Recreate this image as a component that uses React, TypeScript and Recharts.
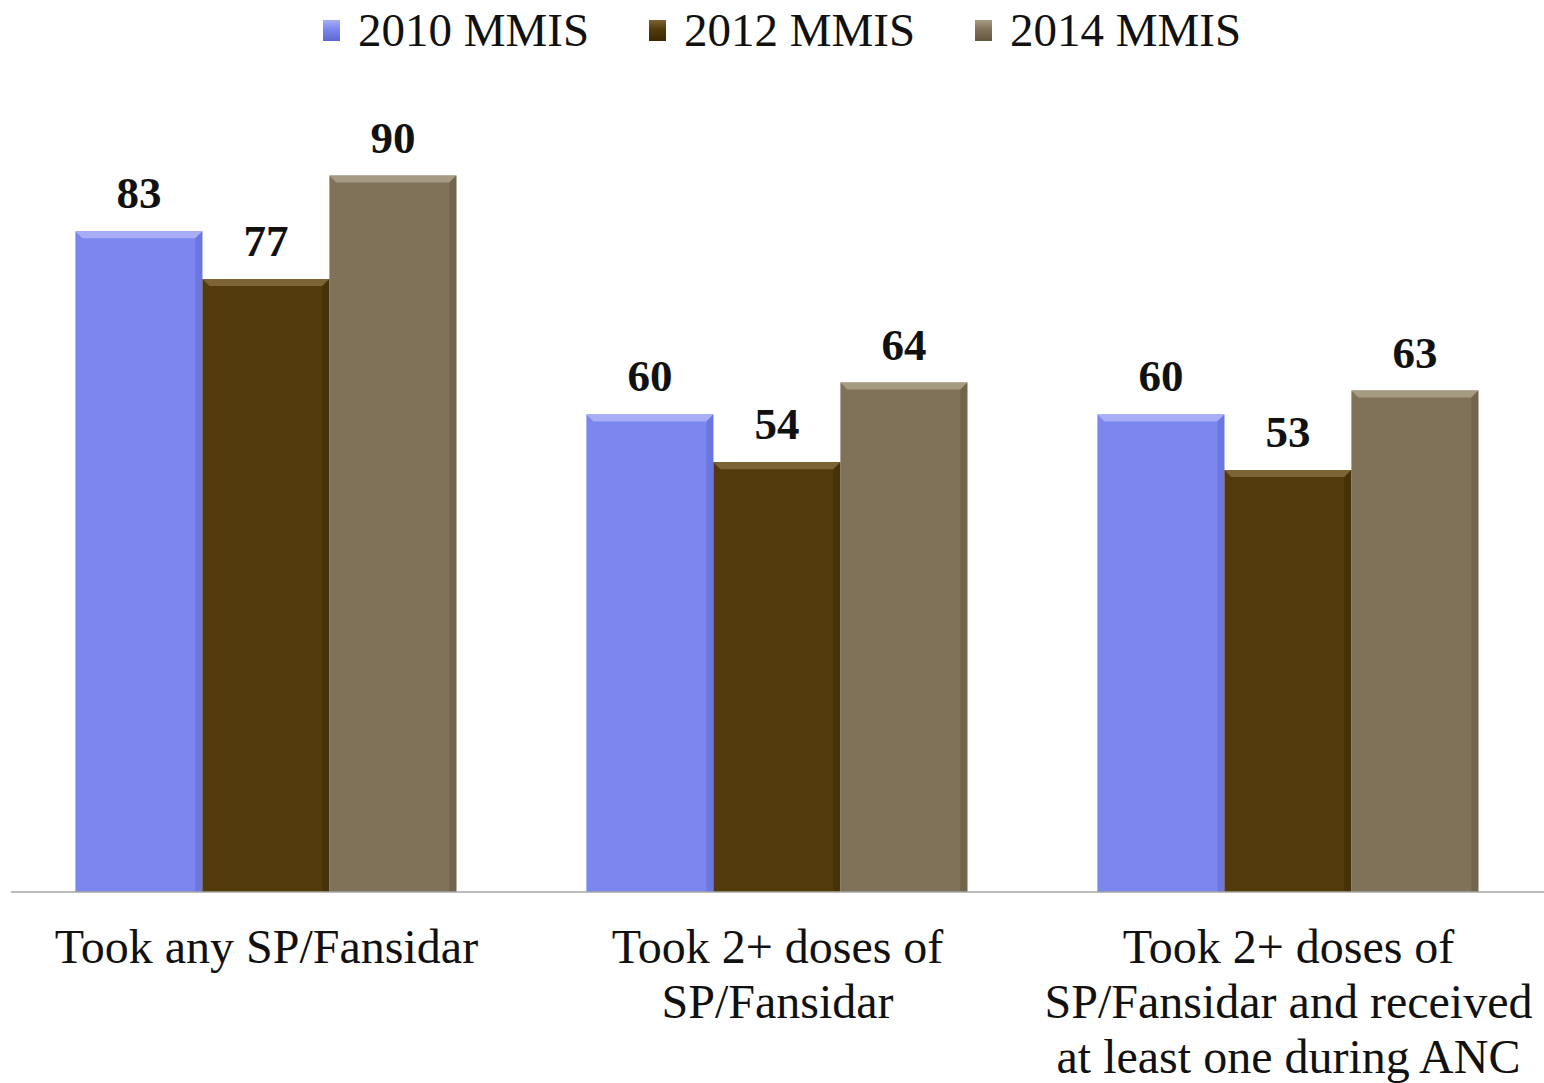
import React from 'react'
import { Bar, BarChart, LabelList, Legend, XAxis, YAxis } from 'recharts'

const categories = [
  'Took any SP/Fansidar',
  'Took 2+ doses of\nSP/Fansidar',
  'Took 2+ doses of\nSP/Fansidar and received\nat least one during ANC',
]
const seriesNames = ['2010 MMIS', '2012 MMIS', '2014 MMIS']
const values2010 = [83, 60, 60]
const values2012 = [77, 54, 53]
const values2014 = [90, 64, 63]

const COLORS = ['#7b86ee', '#523a0b', '#7f7258']
const LIGHT = ['#a7aef6', '#7e6334', '#a59a82']
const DARK = ['#5c67d0', '#3a2806', '#645841']
const FONT = 'Liberation Serif, Times New Roman, serif'

const data = categories.map((name, i) => ({
  name,
  v2010: values2010[i],
  v2012: values2012[i],
  v2014: values2014[i],
}))

const makeShape = (idx: number) => (props: any) => {
  const { x, y, width, height } = props
  if (!height || height <= 0) return null
  const b = 7
  return (
    <g>
      <rect x={x} y={y} width={width} height={height} fill={COLORS[idx]} />
      <polygon points={`${x},${y} ${x + width},${y} ${x + width - b},${y + b} ${x + b},${y + b}`} fill={LIGHT[idx]} />
      <polygon points={`${x + width},${y} ${x + width - b},${y + b} ${x + width - b},${y + height} ${x + width},${y + height}`} fill={DARK[idx]} opacity={0.5} />
    </g>
  )
}

const CategoryTick = (props: any) => {
  const { x, y, payload } = props
  const lines = String(payload.value).split('\n')
  return (
    <text x={x} y={y + 71} textAnchor="middle" fill="#111" fontSize={48} fontFamily={FONT}>
      {lines.map((line, i) => (
        <tspan key={i} x={x} dy={i === 0 ? 0 : 55}>{line}</tspan>
      ))}
    </text>
  )
}

// legend drawn in svg so it uses the same serif font as the axis
const LegendContent = () => (
  <svg width={1544} height={60} style={{ display: 'block' }}>
    <defs>
      {seriesNames.map((n, i) => (
        <linearGradient key={n} id={`lg${i}`} x1="0" y1="0" x2="0" y2="1">
          <stop offset="0" stopColor={LIGHT[i]} />
          <stop offset="0.45" stopColor={COLORS[i]} />
          <stop offset="1" stopColor={DARK[i]} />
        </linearGradient>
      ))}
    </defs>
    {seriesNames.map((n, i) => {
      const x0 = 323 + i * 326
      return (
        <g key={n}>
          <rect x={x0} y={20} width={17} height={21} fill={`url(#lg${i})`} />
          <text x={x0 + 35} y={46} fontSize={47} fontFamily={FONT} fill="#111">{n}</text>
        </g>
      )
    })}
  </svg>
)

const labelStyle = { fontSize: 45, fontWeight: 700, fontFamily: FONT, fill: '#111' }

function App() {
  return (
    <div style={{ position: 'absolute', left: 0, top: 0, background: '#fff' }}>
      <BarChart
        width={1544}
        height={1083}
        data={data}
        margin={{ top: 36, right: 0, left: 11, bottom: 0 }}
        barCategoryGap="12.6%"
        barGap={0}
      >
        <Legend verticalAlign="top" content={LegendContent} wrapperStyle={{ top: 0, left: 0, width: 1544 }} />
        <XAxis
          dataKey="name"
          interval={0}
          height={191}
          tickLine={false}
          tickSize={0}
          tickMargin={0}
          tick={CategoryTick}
          axisLine={{ stroke: '#a6a6a6', strokeWidth: 1.5 }}
        />
        <YAxis hide domain={[0, 100]} />
        <Bar dataKey="v2010" name={seriesNames[0]} fill={COLORS[0]} shape={makeShape(0)} isAnimationActive={false}>
          <LabelList dataKey="v2010" position="top" offset={23} style={labelStyle} />
        </Bar>
        <Bar dataKey="v2012" name={seriesNames[1]} fill={COLORS[1]} shape={makeShape(1)} isAnimationActive={false}>
          <LabelList dataKey="v2012" position="top" offset={23} style={labelStyle} />
        </Bar>
        <Bar dataKey="v2014" name={seriesNames[2]} fill={COLORS[2]} shape={makeShape(2)} isAnimationActive={false}>
          <LabelList dataKey="v2014" position="top" offset={23} style={labelStyle} />
        </Bar>
      </BarChart>
    </div>
  )
}

export default App
